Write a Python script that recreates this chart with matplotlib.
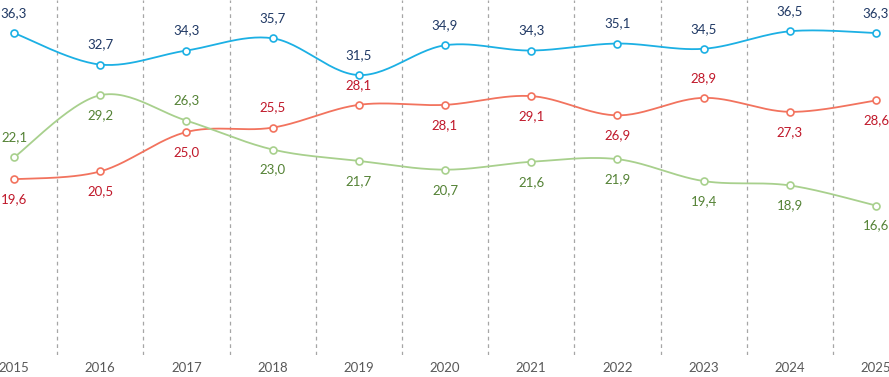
import numpy as np
import matplotlib
matplotlib.use("Agg")
import matplotlib.pyplot as plt

plt.rcParams['font.family'] = ['Lato', 'DejaVu Sans']

years = [2015, 2016, 2017, 2018, 2019, 2020, 2021, 2022, 2023, 2024, 2025]
blue = [36.3, 32.7, 34.3, 35.7, 31.5, 34.9, 34.3, 35.1, 34.5, 36.5, 36.3]
red = [19.6, 20.5, 25.0, 25.5, 28.1, 28.1, 29.1, 26.9, 28.9, 27.3, 28.6]
green = [22.1, 29.2, 26.3, 23.0, 21.7, 20.7, 21.6, 21.9, 19.4, 18.9, 16.6]

# +1 = label above point, -1 = below
blue_pos = [1] * 11
red_pos = [-1, -1, -1, 1, 1, -1, -1, -1, 1, -1, -1]
green_pos = [1, -1, 1, -1, -1, -1, -1, -1, -1, -1, -1]


def smooth(x, y, n=30):
    # excel-like smoothed line (cardinal bezier)
    x = np.asarray(x, float)
    y = np.asarray(y, float)
    px = np.concatenate([[x[0]], x, [x[-1]]])
    py = np.concatenate([[y[0]], y, [y[-1]]])
    xs, ys = [], []
    t = np.linspace(0, 1, n)
    for i in range(1, len(px) - 2):
        p0 = np.array([px[i], py[i]])
        p3 = np.array([px[i + 1], py[i + 1]])
        c1 = p0 + (p3 - np.array([px[i - 1], py[i - 1]])) / 6
        c2 = p3 - (np.array([px[i + 2], py[i + 2]]) - p0) / 6
        b = ((1 - t) ** 3)[:, None] * p0 + (3 * (1 - t) ** 2 * t)[:, None] * c1 \
            + (3 * (1 - t) * t ** 2)[:, None] * c2 + (t ** 3)[:, None] * p3
        xs.extend(b[:, 0])
        ys.extend(b[:, 1])
    return xs, ys


fig = plt.figure(figsize=(8.89, 3.77), dpi=100)
ax = fig.add_axes([0, 22 / 377, 1, 355 / 377])

series = [
    (blue, blue_pos, '#1cb0e4', '#1f3864'),
    (red, red_pos, '#f2735e', '#c0182a'),
    (green, green_pos, '#a8d08d', '#548235'),
]

for vals, pos, lc, tc in series:
    sx, sy = smooth(years, vals)
    ax.plot(sx, sy, color=lc, lw=1.3, zorder=3)
    ax.plot(years, vals, 'o', ms=5, mfc='white', mec=lc, mew=1.2, zorder=4)
    for x, v, p in zip(years, vals, pos):
        ax.annotate(f'{v:.1f}'.replace('.', ','), (x, v), xytext=(0, 20 * p),
                    textcoords='offset pixels', ha='center', va='center',
                    fontsize=9.5, color=tc, annotation_clip=False)

for x in years[:-1]:
    ax.axvline(x + 0.5, color='#a6a6a6', lw=0.9, ls=(0, (3, 3)), zorder=1)

ax.set_xlim(2015 - 14 / 86.2, 2015 + 875 / 86.2)
ax.set_ylim(-4 / 8.75, 40.07)
ax.set_xticks(years)
ax.set_xticklabels([str(y) for y in years], fontsize=9.5, color='#595959')
ax.tick_params(axis='x', length=0, pad=5)
ax.set_yticks([])
for s in ax.spines.values():
    s.set_visible(False)

fig.savefig('out.png', dpi=100)
